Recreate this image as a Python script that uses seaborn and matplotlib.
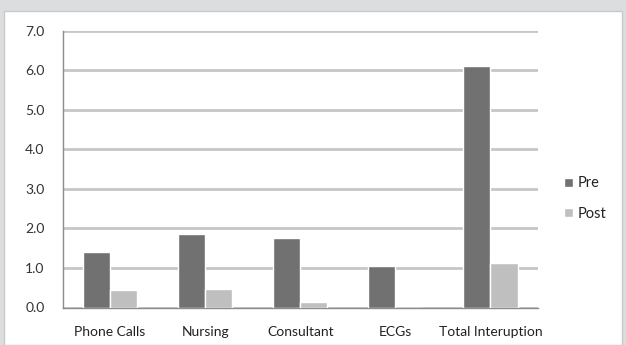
import pandas as pd
import numpy as np
import matplotlib
matplotlib.use("Agg")
import matplotlib.pyplot as plt
import seaborn as sns
from matplotlib.patches import Rectangle

categories = ["Phone Calls", "Nursing", "Consultant", "ECGs", "Total Interuption"]
pre = [1.40, 1.85, 1.76, 1.04, 6.10]
post = [0.45, 0.48, 0.15, 0.0, 1.13]

df = pd.DataFrame({"Category": categories * 2,
                   "Value": pre + post,
                   "Group": ["Pre"] * 5 + ["Post"] * 5})

sns.set_style("white")
plt.rcParams["font.family"] = ["Lato", "DejaVu Sans"]

fig = plt.figure(figsize=(6.26, 3.45), dpi=100)
fig.patch.set_facecolor("#dcdddf")
# white chart panel
fig.patches.append(Rectangle((4 / 626, 0), 618 / 626, 334 / 345, transform=fig.transFigure,
                             facecolor="white", edgecolor="#c9c9c9", linewidth=1, zorder=-5))

ax = fig.add_axes([62.5 / 626, 37.5 / 345, 475.5 / 626, 277 / 345])
ax.set_zorder(2)
ax.set_facecolor("none")

sns.barplot(data=df, x="Category", y="Value", hue="Group", order=categories,
            palette={"Pre": "#717171", "Post": "#bfbfbf"}, width=0.57, gap=0,
            saturation=1, ax=ax, zorder=3)

ax.set_ylim(0, 7)
ax.set_xlim(-0.5, 4.5)
ax.set_yticks(np.arange(0, 7.1, 1.0))
ax.set_yticklabels([f"{v:.1f}" for v in np.arange(0, 7.1, 1.0)], fontsize=10, color="#333333")
ax.yaxis.grid(True, color="#c6c6c6", linewidth=2, zorder=0)
ax.set_axisbelow(True)

ax.set_xticks(np.arange(-0.5, 5, 1.0), minor=False)
ax.set_xticklabels([])
ax.set_xticks(np.arange(0, 5), minor=True)
ax.set_xticklabels(categories, minor=True, fontsize=10, color="#222222")
ax.tick_params(axis="x", which="major", direction="out", length=4, color="#8c8c8c", width=1)
ax.tick_params(axis="x", which="minor", length=0, pad=13)
ax.tick_params(axis="y", direction="out", length=4, color="#8c8c8c", width=1, pad=9)

for s in ["top", "right"]:
    ax.spines[s].set_visible(False)
ax.spines["left"].set_color("#8c8c8c")
ax.spines["bottom"].set_color("#8c8c8c")
ax.spines["left"].set_linewidth(1)
ax.spines["bottom"].set_linewidth(1)

ax.set_xlabel("")
ax.set_ylabel("")
ax.legend(title=None, frameon=False, loc="center left",
          bbox_to_anchor=(564 / 626, (345 - 198.5) / 345), bbox_transform=fig.transFigure,
          fontsize=10.5, handlelength=0.62, handleheight=0.62, handletextpad=0.3,
          labelspacing=1.1, labelcolor="#222222", borderpad=0, borderaxespad=0)

fig.savefig("out.png", dpi=100)
